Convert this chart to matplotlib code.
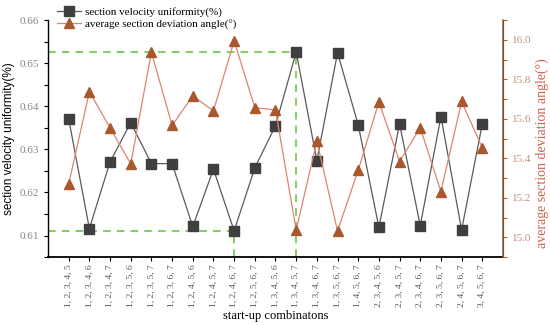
import matplotlib
matplotlib.use("Agg")
import matplotlib.pyplot as plt
from matplotlib.ticker import MultipleLocator
import numpy as np

# start-up combinations
combos = ["1, 2, 3, 4, 5", "1, 2, 3, 4, 6", "1, 2, 3, 4, 7", "1, 2, 3, 5, 6",
          "1, 2, 3, 5, 7", "1, 2, 3, 6, 7", "1, 2, 4, 5, 6", "1, 2, 4, 5, 7",
          "1, 2, 4, 6, 7", "1, 2, 5, 6, 7", "1, 3, 4, 5, 6", "1, 3, 4, 5, 7",
          "1, 3, 4, 6, 7", "1, 3, 5, 6, 7", "1, 4, 5, 6, 7", "2, 3, 4, 5, 6",
          "2, 3, 4, 5, 7", "2, 3, 4, 6, 7", "2, 3, 5, 6, 7", "2, 4, 5, 6, 7",
          "3, 4, 5, 6, 7"]

uniformity = [0.6371, 0.6116, 0.6271, 0.6362, 0.6267, 0.6267, 0.6121,
              0.6254, 0.6111, 0.6257, 0.6355, 0.6526, 0.6274, 0.6524,
              0.6357, 0.6119, 0.6359, 0.6123, 0.6376, 0.6113, 0.6359]

deviation = [15.27, 15.737, 15.555, 15.372, 15.937, 15.567, 15.716,
             15.64, 15.996, 15.657, 15.645, 15.037, 15.487, 15.032,
             15.34, 15.686, 15.384, 15.555, 15.232, 15.688, 15.453]

serif = ["Liberation Serif", "DejaVu Serif"]
x = np.arange(len(combos))

fig = plt.figure(figsize=(5.5, 3.25), dpi=100)
ax = fig.add_axes([0.0873, 0.209, 0.8272, 0.729])
ax2 = ax.twinx()

l1, = ax.plot(x, uniformity, color="#5a5a5a", lw=0.9, marker="s", ms=6.5,
              mfc="#3f3f3f", mec="#3f3f3f", zorder=3,
              label="section velocity uniformity(%)")
l2, = ax2.plot(x, deviation, color="#d98670", lw=0.9, marker="^", ms=7.5,
               mfc="#a9582e", mec="#a9582e", zorder=3,
               label="average section deviation angle(\u00b0)")

# dashed guide lines at max / min uniformity
green = "#5cc43a"
imax = int(np.argmax(uniformity))
imin = int(np.argmin(uniformity))
for i in (imax, imin):
    ax.plot([-1, x[i]], [uniformity[i], uniformity[i]], ls=(0, (5, 4)),
            color=green, lw=1.1, zorder=2)
    ax.plot([x[i], x[i]], [0.605, uniformity[i]], ls=(0, (5, 4)),
            color=green, lw=1.1, zorder=2)

ax.set_xlim(-1, len(combos))
ax.set_ylim(0.605, 0.66)
ax2.set_ylim(14.9, 16.1)

ax.set_xticks(x)
ax.set_xticklabels(combos, rotation=90, fontsize=6.8, family=serif, color="#555555")
ax.yaxis.set_major_locator(MultipleLocator(0.01))
ax.yaxis.set_minor_locator(MultipleLocator(0.005))
ax.yaxis.set_major_formatter(plt.FuncFormatter(lambda v, p: f"{v:.2f}"))
ax2.yaxis.set_major_locator(MultipleLocator(0.2))
ax2.yaxis.set_minor_locator(MultipleLocator(0.1))
ax2.yaxis.set_major_formatter(plt.FuncFormatter(lambda v, p: f"{v:.1f}"))

for lab in ax.get_yticklabels():
    lab.set_family(serif)
    lab.set_fontsize(8)
    lab.set_color("#888888")
for lab in ax2.get_yticklabels():
    lab.set_family(serif)
    lab.set_fontsize(8)
    lab.set_color("#c09080")

ax.tick_params(axis="x", direction="out", length=3, width=0.8, pad=2)
ax.tick_params(axis="y", which="both", direction="out", length=3, width=0.8)
ax2.tick_params(axis="y", which="both", direction="out", length=3, width=0.8,
                color="#a0643c")

for a in (ax, ax2):
    a.spines["top"].set_visible(False)
ax.spines["left"].set_linewidth(1.0)
ax.spines["bottom"].set_linewidth(1.3)
ax2.spines["right"].set_color("#a0643c")
ax2.spines["right"].set_linewidth(1.1)
ax2.spines["left"].set_visible(False)
ax2.spines["bottom"].set_visible(False)

ax.set_xlabel("start-up combinatons", fontsize=9, family=serif, labelpad=2)
ax.set_ylabel("section velocity uniformity(%)", fontsize=8.5,
              family=["Liberation Sans", "DejaVu Sans"], labelpad=3)
ax2.set_ylabel("average section deviation angle(\u00b0)", fontsize=10,
               family=serif, color="#d0604c", labelpad=3)
ax2.yaxis.label.set_y(0.44)

ax.legend(handles=[l1, l2], loc="upper left", bbox_to_anchor=(0.005, 1.085),
          frameon=False, prop={"family": serif, "size": 8},
          handlelength=2.2, handletextpad=0.3, labelspacing=0.25,
          borderpad=0.1)

fig.savefig("out.png", dpi=100)
